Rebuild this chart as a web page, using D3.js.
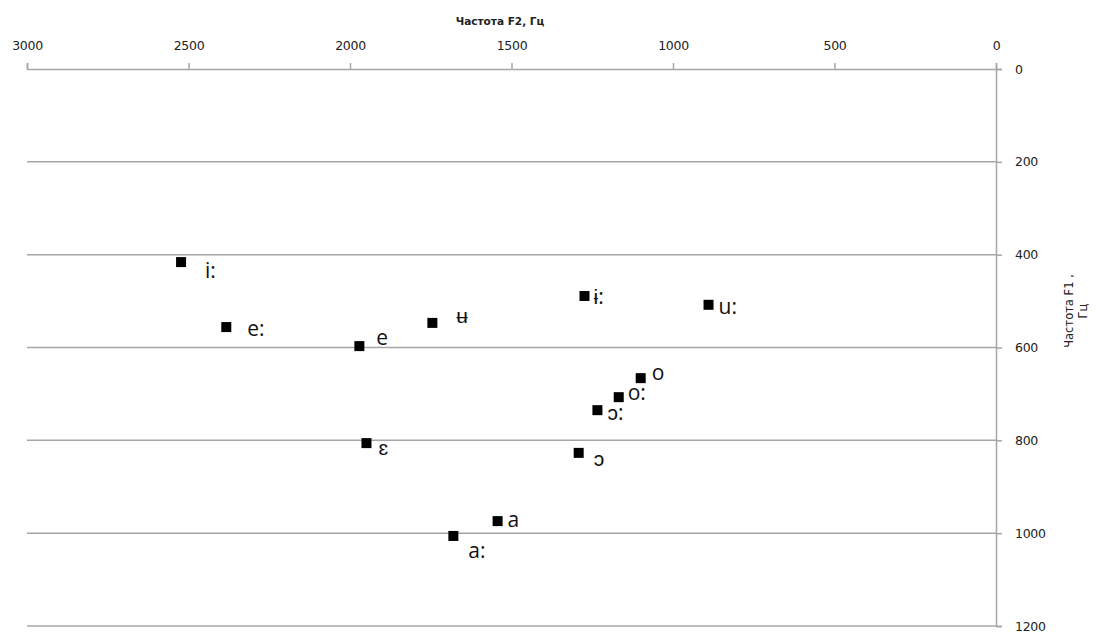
<!DOCTYPE html>
<html>
<head>
<meta charset="utf-8">
<script src="https://cdn.jsdelivr.net/npm/d3@7"></script>
<style>
  body { margin: 0; background: #fff; }
  svg { display: block; }
  .tick text { font-family: "DejaVu Sans", sans-serif; font-size: 12.5px; fill: #222; letter-spacing: -0.3px; }
</style>
</head>
<body>
<svg id="chart" width="1097" height="632"></svg>
<script>
// Vowel formant chart: F2 (horizontal, reversed) vs F1 (vertical, downward)
const vowels = ["i:", "e:", "e", "ʉ", "ɨ:", "u:", "o", "o:", "ɔ:", "ɔ", "ɛ", "a", "a:"];
const f2 = [2523, 2383, 1971, 1745, 1274, 890, 1100, 1168, 1234, 1292, 1949, 1543, 1680];
const f1 = [416, 556, 597, 547, 489, 508, 666, 707, 735, 827, 806, 974, 1006];
// label offsets (px) from each marker
const labelDx = [24, 21, 17, 24, 9, 10, 11, 9, 10, 15, 12, 10, 15];
const labelDy = [16, 9, -1, 0, 8, 9, 2, 3, 10, 13, 12, 6, 22];

const xTicks = [3000, 2500, 2000, 1500, 1000, 500, 0];
const yTicks = [0, 200, 400, 600, 800, 1000, 1200];

const svg = d3.select("#chart");
const plotLeft = 27, plotRight = 996, plotTop = 69, plotBottom = 626;

const x = d3.scaleLinear().domain([3000, 0]).range([plotLeft, plotRight]);
const y = d3.scaleLinear().domain([0, 1200]).range([plotTop, plotBottom]);
const fmt = d3.format("d");

// horizontal gridlines
svg.append("g")
  .selectAll("line")
  .data(yTicks.filter(d => d > 0))
  .join("line")
  .attr("x1", plotLeft).attr("x2", plotRight)
  .attr("y1", d => y(d)).attr("y2", d => y(d))
  .attr("stroke", "#a6a6a6").attr("stroke-width", 1.5);

// top axis (F2)
const xAxis = svg.append("g")
  .attr("transform", `translate(0,${plotTop})`)
  .call(d3.axisTop(x).tickValues(xTicks).tickFormat(fmt).tickSize(6).tickPadding(13));
xAxis.select(".domain").attr("stroke", "#a6a6a6").attr("stroke-width", 1.5);
xAxis.selectAll(".tick line").attr("stroke", "#a6a6a6").attr("stroke-width", 1.5);

// right axis (F1)
const yAxis = svg.append("g")
  .attr("transform", `translate(${plotRight},0)`)
  .call(d3.axisRight(y).tickValues(yTicks).tickFormat(fmt).tickSize(6).tickPadding(13));
yAxis.select(".domain").attr("stroke", "#a6a6a6").attr("stroke-width", 1.5);
yAxis.selectAll(".tick line").attr("stroke", "#a6a6a6").attr("stroke-width", 1.5);

// axis titles
svg.append("text")
  .attr("x", 500).attr("y", 25)
  .attr("text-anchor", "middle")
  .attr("font-family", "DejaVu Sans, sans-serif")
  .attr("font-size", 10.5).attr("font-weight", "bold")
  .attr("fill", "#222")
  .text("Частота F2, Гц");

const yTitle = svg.append("text")
  .attr("transform", "translate(1073,311) rotate(-90)")
  .attr("text-anchor", "middle")
  .attr("font-family", "DejaVu Sans, sans-serif")
  .attr("font-size", 11.5)
  .attr("fill", "#222");
yTitle.append("tspan").attr("x", 0).attr("dy", 0).text("Частота F1 ,");
yTitle.append("tspan").attr("x", 0).attr("dy", 14).text("Гц");

// markers
const pts = vowels.map((v, i) => ({ v, f2: f2[i], f1: f1[i], dx: labelDx[i], dy: labelDy[i] }));
svg.append("g")
  .selectAll("rect")
  .data(pts)
  .join("rect")
  .attr("x", d => x(d.f2) - 5)
  .attr("y", d => y(d.f1) - 5)
  .attr("width", 10).attr("height", 10)
  .attr("fill", "#000");

// vowel labels
svg.append("g")
  .selectAll("text")
  .data(pts)
  .join("text")
  .attr("x", d => x(d.f2) + d.dx)
  .attr("y", d => y(d.f1) + d.dy)
  .attr("font-family", "Open Sans, sans-serif")
  .attr("font-size", 21)
  .attr("fill", "#111")
  .text(d => d.v);
</script>
</body>
</html>
